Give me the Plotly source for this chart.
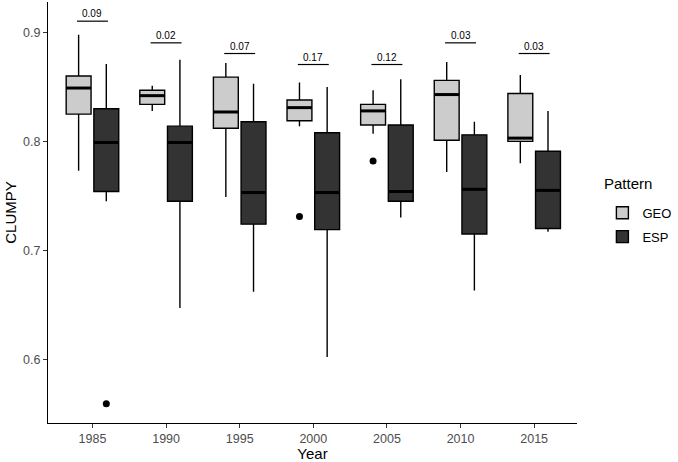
import plotly.graph_objects as go

# box statistics
years = [1985, 1990, 1995, 2000, 2005, 2010, 2015]

geo_low = [0.773, 0.828, 0.749, 0.814, 0.807, 0.772, 0.780]
geo_q1 = [0.825, 0.834, 0.812, 0.819, 0.815, 0.801, 0.800]
geo_med = [0.849, 0.842, 0.827, 0.831, 0.828, 0.843, 0.803]
geo_q3 = [0.860, 0.847, 0.859, 0.838, 0.834, 0.856, 0.844]
geo_high = [0.898, 0.851, 0.872, 0.854, 0.847, 0.873, 0.861]

esp_low = [0.745, 0.647, 0.662, 0.602, 0.730, 0.663, 0.717]
esp_q1 = [0.754, 0.745, 0.724, 0.719, 0.745, 0.715, 0.720]
esp_med = [0.799, 0.799, 0.753, 0.753, 0.754, 0.756, 0.755]
esp_q3 = [0.830, 0.814, 0.818, 0.808, 0.815, 0.806, 0.791]
esp_high = [0.871, 0.875, 0.853, 0.850, 0.857, 0.818, 0.828]

# outliers
geo_out_year = [2000, 2005]
geo_out_val = [0.731, 0.782]
esp_out_year = [1985]
esp_out_val = [0.559]

# p-value labels
p_labels = ["0.09", "0.02", "0.07", "0.17", "0.12", "0.03", "0.03"]
p_y = [0.9104, 0.8905, 0.8807, 0.8706, 0.8706, 0.8905, 0.8807]

dodge = 0.94
bw = 1.69
font = "Liberation Sans, Arial, sans-serif"

fig = go.Figure()

groups = [
    ("GEO", "#CCCCCC", -dodge, geo_low, geo_q1, geo_med, geo_q3, geo_high),
    ("ESP", "#333333", dodge, esp_low, esp_q1, esp_med, esp_q3, esp_high),
]
for name, col, off, lo, q1, med, q3, hi in groups:
    xs = [y + off for y in years]
    fig.add_trace(go.Box(
        x=xs, q1=q1, median=med, q3=q3, lowerfence=lo, upperfence=hi,
        name=name, legendgroup=name, fillcolor=col,
        line=dict(color="black", width=1.4),
        width=bw, whiskerwidth=0, boxpoints=False, hoverinfo="skip"))
    # thicker median bars like ggplot
    mx, my = [], []
    for x, m in zip(xs, med):
        mx += [x - bw / 2, x + bw / 2, None]
        my += [m, m, None]
    fig.add_trace(go.Scatter(x=mx, y=my, mode="lines", showlegend=False,
                             line=dict(color="black", width=3), hoverinfo="skip"))

fig.add_trace(go.Scatter(
    x=[y - dodge for y in geo_out_year] + [y + dodge for y in esp_out_year],
    y=geo_out_val + esp_out_val, mode="markers", showlegend=False,
    marker=dict(color="black", size=7), hoverinfo="skip"))

for yr, lab, py in zip(years, p_labels, p_y):
    fig.add_shape(type="line", x0=yr - 1.05, x1=yr + 1.05, y0=py, y1=py,
                  line=dict(color="black", width=1.2))
    fig.add_annotation(x=yr, y=py, text=lab, showarrow=False, yanchor="bottom",
                       yshift=0, font=dict(size=10, color="black", family=font))

# legend title as a separate label so the keys can sit lower
fig.add_annotation(xref="paper", yref="paper", x=1.048, y=0.57, text="Pattern",
                   showarrow=False, xanchor="left", yanchor="middle",
                   font=dict(size=15, color="black", family=font))

fig.update_layout(
    width=678, height=462,
    margin=dict(l=48, r=91, t=2, b=39),
    paper_bgcolor="white", plot_bgcolor="white",
    font=dict(family=font),
    boxmode="overlay",
    legend=dict(font=dict(size=13, color="black"),
                x=1.048, y=0.535, xanchor="left", yanchor="top",
                itemwidth=30, tracegroupgap=4),
    xaxis=dict(range=[1981.98, 2017.91], tickvals=years, automargin=False,
               showline=True, linecolor="black", linewidth=1.1,
               ticks="outside", ticklen=4, tickcolor="#333333",
               tickfont=dict(size=12.5, color="#4D4D4D"),
               showgrid=False, zeroline=False,
               title=dict(text="Year", font=dict(size=15, color="black"), standoff=2)),
    yaxis=dict(range=[0.5414, 0.928], tickvals=[0.6, 0.7, 0.8, 0.9], automargin=False,
               showline=True, linecolor="black", linewidth=1.1,
               ticks="outside", ticklen=4, tickcolor="#333333",
               tickfont=dict(size=12.5, color="#4D4D4D"),
               showgrid=False, zeroline=False,
               title=dict(text="CLUMPY", font=dict(size=15, color="black"), standoff=2)),
)

fig.write_html("out.html", config={"displayModeBar": False},
               post_script="document.body.style.margin='0';")
